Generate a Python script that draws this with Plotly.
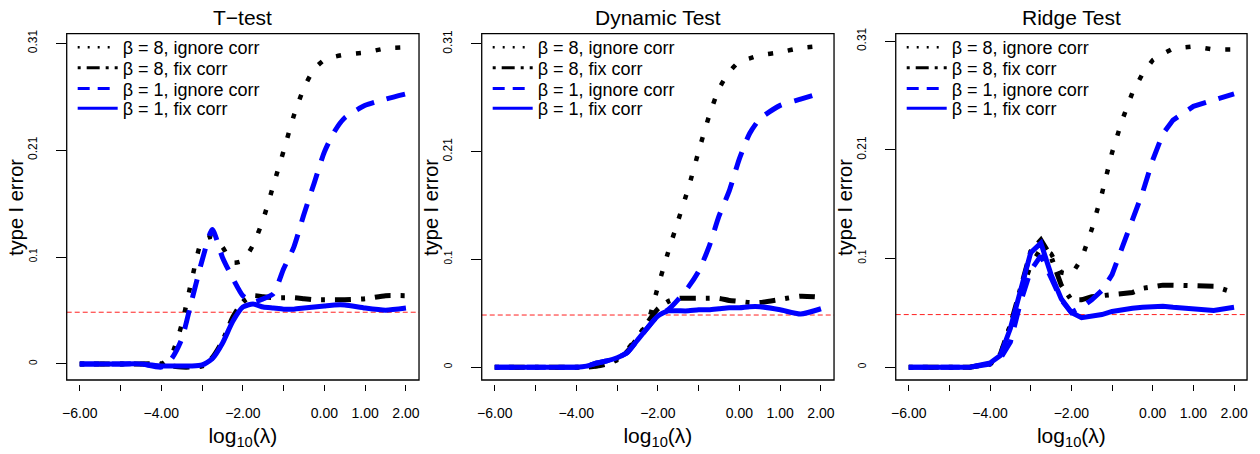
import plotly.graph_objects as go

# ---------------- data ----------------
log_lambda = [-6, -5.5, -5, -4.5, -4, -3.75, -3.5, -3.25, -3, -2.75, -2.5, -2.25, -2,
              -1.75, -1.5, -1.25, -1, -0.75, -0.5, -0.25, 0, 0.25, 0.5, 1, 1.5, 2]

panel_titles = ["T\u2212test", "Dynamic Test", "Ridge Test"]
series_names = ["\u03b2 = 8, ignore corr", "\u03b2 = 8, fix corr",
                "\u03b2 = 1, ignore corr", "\u03b2 = 1, fix corr"]

# T-test
t_b8_ignore = [0, 0, 0, 0, 0, 0.009, 0.038, 0.082, 0.119, 0.123, 0.113, 0.098, 0.100,
               0.115, 0.140, 0.173, 0.206, 0.240, 0.267, 0.285, 0.294, 0.297, 0.299, 0.301, 0.305, 0.306]
t_b8_fix = [0, 0, 0, 0, 0, -0.002, -0.003, -0.003, -0.002, 0.006, 0.022, 0.045, 0.060,
            0.066, 0.065, 0.064, 0.064, 0.064, 0.063, 0.062, 0.062, 0.062, 0.062, 0.063, 0.066, 0.066]
t_b1_ignore = [0, 0, 0, 0, -0.003, 0.005, 0.024, 0.062, 0.100, 0.130, 0.103, 0.083, 0.066,
               0.060, 0.063, 0.068, 0.092, 0.113, 0.145, 0.175, 0.205, 0.225, 0.238, 0.250, 0.256, 0.261]
t_b1_fix = [0, 0, 0, 0, -0.002, -0.002, -0.002, -0.002, -0.001, 0.005, 0.020, 0.041, 0.055,
            0.058, 0.055, 0.054, 0.053, 0.053, 0.054, 0.055, 0.056, 0.057, 0.057, 0.054, 0.052, 0.054]

# Dynamic test
d_b8_ignore = [0, 0, 0, 0, 0, 0, 0.001, 0.003, 0.008, 0.017, 0.029, 0.043, 0.077,
               0.110, 0.141, 0.172, 0.207, 0.240, 0.267, 0.283, 0.293, 0.296, 0.299, 0.302, 0.306, 0.308]
d_b8_fix = [0, 0, 0, 0, 0, 0, 0.001, 0.003, 0.007, 0.015, 0.028, 0.043, 0.056,
            0.063, 0.066, 0.066, 0.066, 0.066, 0.066, 0.064, 0.063, 0.062, 0.062, 0.065, 0.068, 0.067]
d_b1_ignore = [0, 0, 0, 0, 0, 0.001, 0.004, 0.006, 0.009, 0.014, 0.026, 0.038, 0.049,
               0.055, 0.065, 0.077, 0.092, 0.115, 0.145, 0.169, 0.200, 0.224, 0.238, 0.251, 0.257, 0.263]
d_b1_fix = [0, 0, 0, 0, 0, 0.001, 0.004, 0.006, 0.009, 0.014, 0.026, 0.038, 0.049,
            0.054, 0.054, 0.054, 0.055, 0.055, 0.056, 0.057, 0.057, 0.058, 0.058, 0.055, 0.051, 0.056]

# Ridge test
r_b8_ignore = [0, 0, 0, 0, 0.003, 0.012, 0.040, 0.070, 0.097, 0.113, 0.108, 0.090, 0.088,
               0.103, 0.131, 0.165, 0.204, 0.235, 0.261, 0.279, 0.292, 0.298, 0.303, 0.305, 0.302, 0.302]
r_b8_fix = [0, 0, 0, 0, 0.003, 0.012, 0.040, 0.075, 0.110, 0.121, 0.105, 0.078, 0.064,
            0.064, 0.067, 0.068, 0.069, 0.070, 0.071, 0.075, 0.077, 0.078, 0.078, 0.078, 0.077, 0.071]
r_b1_ignore = [0, 0, 0, 0, 0.003, 0.008, 0.024, 0.062, 0.092, 0.106, 0.085, 0.064, 0.052,
               0.057, 0.064, 0.073, 0.088, 0.114, 0.137, 0.166, 0.197, 0.222, 0.235, 0.248, 0.254, 0.260]
r_b1_fix = [0, 0, 0, 0, 0.004, 0.011, 0.037, 0.073, 0.109, 0.118, 0.088, 0.065, 0.052,
            0.047, 0.048, 0.050, 0.053, 0.055, 0.056, 0.057, 0.058, 0.058, 0.057, 0.055, 0.054, 0.057]

alpha_level = 0.05

x_tickvals = [-6, -5, -4, -3, -2, -1, 0, 1, 2]
x_ticktext = ["\u22126.00", "", "\u22124.00", "", "\u22122.00", "", "0.00", "1.00", "2.00"]
y_tickvals = [0, 0.31 / 3, 0.62 / 3, 0.31]
y_ticktext = ['<span style="font-size:10px">0</span>', '<span style="font-size:10px">0.1</span>',
              "0.21", "0.31"]

panels = [
    [t_b8_ignore, t_b8_fix, t_b1_ignore, t_b1_fix],
    [d_b8_ignore, d_b8_fix, d_b1_ignore, d_b1_fix],
    [r_b8_ignore, r_b8_fix, r_b1_ignore, r_b1_fix],
]
y_ranges = [[-0.0155, 0.3193], [-0.0123, 0.3198], [-0.0122, 0.3172]]
line_shapes = ["spline", "spline", "linear"]

# ---------------- styles ----------------
FONT = "Liberation Sans, Arial, Helvetica, sans-serif"
line_styles = [
    dict(color="black", width=4.5, dash="5px,15px"),
    dict(color="black", width=5, dash="4px,10px,16px,10px"),
    dict(color="#0000ff", width=5, dash="19px,13px"),
    dict(color="#0000ff", width=5, dash="solid"),
]
legend_styles = [
    dict(color="black", width=2.5, dash="2px,8px"),
    dict(color="black", width=3, dash="3px,6px,13px,6px"),
    dict(color="#0000ff", width=3, dash="12px,8px"),
    dict(color="#0000ff", width=3, dash="solid"),
]

W, H = 1260, 454
x_domains = [[62 / W, 416 / W], [479 / W, 833 / W], [895 / W, 1248 / W]]
y_domain = [1 - 379 / H, 1 - 28 / H]
legend_rows_px = [42, 63, 84, 104]

fig = go.Figure()
layout = dict(
    width=W, height=H,
    margin=dict(l=0, r=0, t=0, b=0),
    paper_bgcolor="white", plot_bgcolor="white",
    font=dict(family=FONT, color="black"),
    annotations=[], shapes=[],
)

leg_idx = 0
for p in range(3):
    sfx = "" if p == 0 else str(p + 1)
    xa, ya = "x" + sfx, "y" + sfx
    left_px = x_domains[p][0] * W
    # data curves
    for s in range(4):
        fig.add_trace(go.Scatter(
            x=log_lambda, y=panels[p][s], mode="lines", name=series_names[s],
            line=dict(shape=line_shapes[p], smoothing=0.6, **line_styles[s]),
            xaxis=xa, yaxis=ya, showlegend=False, hoverinfo="skip",
        ))
    # legend entries (thinner sample lines, as in the original)
    for s in range(4):
        leg_idx += 1
        lname = "legend" if leg_idx == 1 else "legend%d" % leg_idx
        fig.add_trace(go.Scatter(
            x=[None], y=[None], mode="lines", name=series_names[s],
            line=legend_styles[s], xaxis=xa, yaxis=ya, legend=lname, showlegend=True,
            hoverinfo="skip",
        ))
        layout[lname] = dict(
            x=(left_px + 6) / W, xanchor="left",
            y=1 - legend_rows_px[s] / H, yanchor="middle",
            bgcolor="rgba(0,0,0,0)", borderwidth=0,
            font=dict(size=18, family=FONT, color="black"),
            itemwidth=40,
        )
    layout["xaxis" + sfx] = dict(
        domain=x_domains[p], range=[-6.32, 2.32], anchor="free",
        position=1 - 383 / H,
        tickvals=x_tickvals, ticktext=x_ticktext,
        ticks="outside", ticklen=6, tickwidth=1, tickcolor="black",
        showline=False, showgrid=False, zeroline=False,
        tickfont=dict(size=14, family=FONT, color="black"),
        ticklabelstandoff=10,
        title=dict(text="log<sub>10</sub>(\u03bb)", font=dict(size=21, family=FONT), standoff=8),
    )
    layout["yaxis" + sfx] = dict(
        domain=y_domain, range=y_ranges[p], anchor=xa,
        tickvals=y_tickvals, ticktext=y_ticktext, tickangle=-90,
        ticks="outside", ticklen=10, tickwidth=1, tickcolor="black",
        showline=False, showgrid=False, zeroline=False,
        tickfont=dict(size=12, family=FONT, color="black"),
        ticklabelstandoff=14,
    )
    # y-axis title
    layout["annotations"].append(dict(
        text="type I error", xref="paper", x=(left_px - 51) / W, yref="paper",
        y=(y_domain[0] + y_domain[1]) / 2, textangle=-90,
        xanchor="center", yanchor="middle", showarrow=False,
        font=dict(size=20, family=FONT, color="black"),
    ))
    # panel title
    layout["annotations"].append(dict(
        text=panel_titles[p], xref=xa + " domain", x=0.5, yref="paper", y=1 - 12 / H,
        xanchor="center", yanchor="middle", showarrow=False,
        font=dict(size=21, family=FONT, color="black"),
    ))
    layout["shapes"].append(dict(
        type="line", xref=xa + " domain", x0=0, x1=1, yref=ya, y0=alpha_level, y1=alpha_level,
        line=dict(color="#ff2020", width=1, dash="5px,3px"), layer="below",
    ))
    layout["shapes"].append(dict(
        type="rect", xref=xa + " domain", x0=0, x1=1, yref=ya + " domain", y0=0, y1=1,
        line=dict(color="black", width=1.3), fillcolor="rgba(0,0,0,0)",
    ))

fig.update_layout(**layout)
fig.write_html("out.html")
